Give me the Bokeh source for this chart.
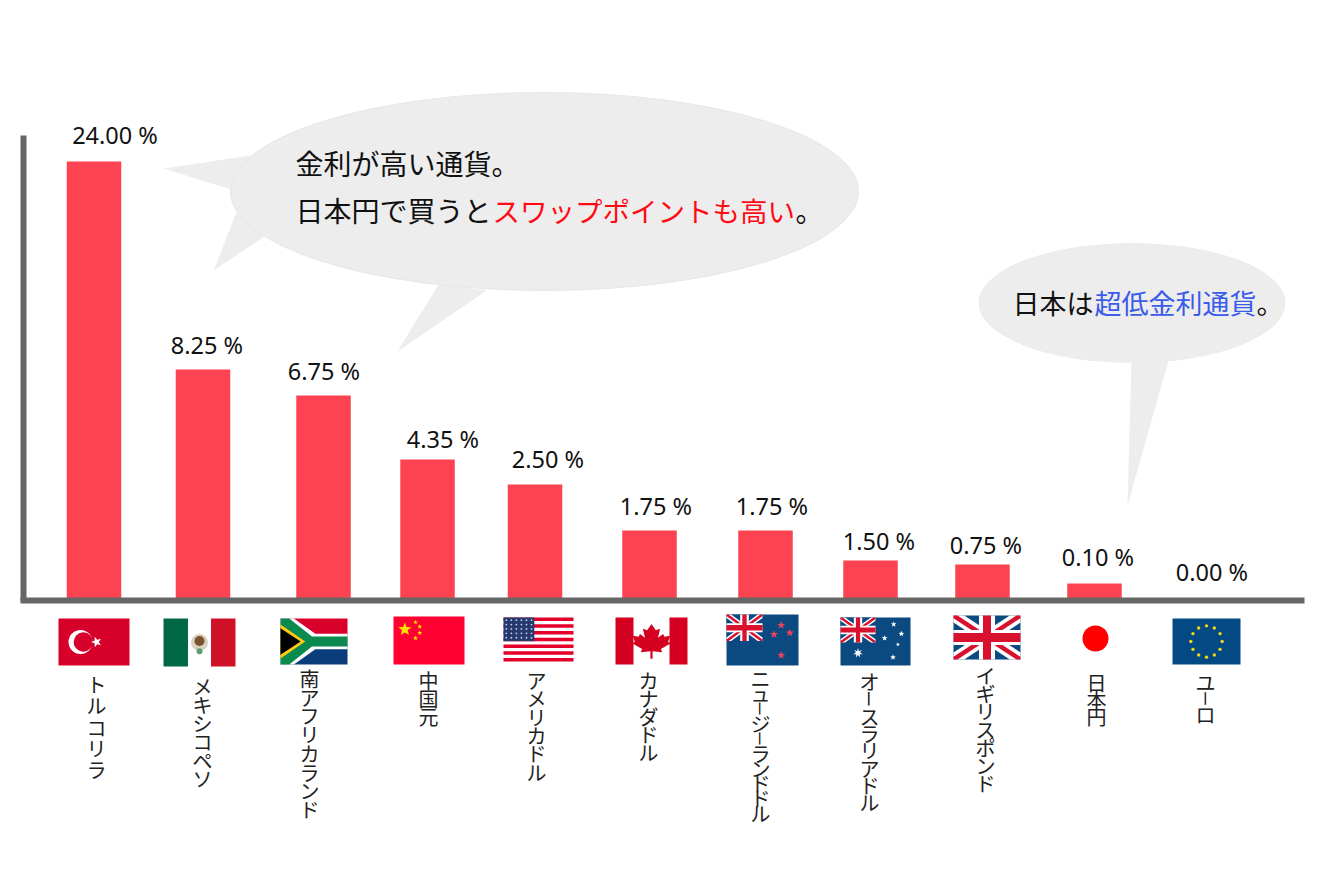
import math
from bokeh.core.properties import value
from bokeh.plotting import figure
from bokeh.models import Range1d
from bokeh.embed import file_html
from bokeh.resources import INLINE

# ---------- data ----------
categories = ["トルコリラ", "メキシコペソ", "南アフリカランド", "中国元", "アメリカドル", "カナダドル",
              "ニュージーランドドル", "オースラリアドル", "イギリスポンド", "日本円", "ユーロ"]
rates = [24.00, 8.25, 6.75, 4.35, 2.50, 1.75, 1.75, 1.50, 0.75, 0.10, 0.00]
# the drawn bars are illustrative, not to scale with the rates
bar_heights = [439, 231, 205, 141, 116, 70, 70, 40, 36, 17, 0]
callout_a_line1 = "金利が高い通貨。"
callout_a_line2_black = "日本円で買うと"
callout_a_line2_red = "スワップポイントも高い"
callout_end = "。"
callout_b_black = "日本は"
callout_b_blue = "超低金利通貨"

# ---------- layout (image pixels) ----------
W, H = 1309, 858
OX, OY = 0, 0
BASE = 600
bar_x = [93.5, 202.5, 323, 427, 534.5, 649, 765, 870, 982, 1094, 1205]
BAR_W = 54.5
label_x = [114.5, 206.5, 323.5, 442.5, 547.5, 655.5, 771.5, 878.5, 985.5, 1097.5, 1211.5]
label_y = [134, 344, 370, 438, 458, 505, 505, 540, 544, 556, 571]
name_x = [96, 202, 309, 428, 536, 648, 760, 869, 985, 1096, 1205]
name_top = [684, 686, 678, 680, 680, 680, 678, 681, 675, 682, 682]
name_pitch = [21.3, 18.4, 18.7, 18, 18.3, 18, 15, 17.3, 18, 17, 16]
flag_boxes = [(58, 618, 129, 665), (163, 618, 235, 666), (280, 618, 347, 664), (393, 616, 464, 664),
              (503, 617, 573, 661), (615, 617, 687, 664), (726, 614, 798, 665), (840, 617, 910, 665),
              (953, 615, 1020, 659), (1060, 612, 1130, 664), (1172, 618, 1240, 664)]


def Y(py):
    return BASE - py


p = figure(width=W, height=H, output_backend="svg", toolbar_location=None,
           x_range=Range1d(OX, OX + W), y_range=Range1d(BASE - OY - H, BASE - OY),
           min_border=0, outline_line_color=None, x_axis_type=None, y_axis_type=None,
           background_fill_color="white", border_fill_color="white")
p.grid.visible = False

BUB = "#EDEDED"


def poly(xs, ys, color):
    p.patch(xs, [Y(v) for v in ys], fill_color=color, line_color=None)


# ---------- callouts ----------
poly([163, 250, 234], [168, 155, 190], BUB)
poly([213, 236, 264], [270, 212, 236], BUB)
poly([397, 438, 486], [351, 284, 290], BUB)
p.ellipse([544], [Y(191)], width=628, height=198, fill_color=BUB, line_color="#E6E6E6", line_width=1)
poly([1131, 1168, 1127], [360, 360, 505], BUB)
p.ellipse([1131.5], [Y(302.5)], width=307, height=120, fill_color=BUB, line_color=None)


def txt(x, y, s, size="27px", color="#111111", font="Noto Sans CJK JP", align="left", angle=0.0):
    p.text([x], [Y(y)], text=[s], text_font=value(font), text_font_size=size, text_color=color,
           text_align=align, text_baseline="middle", angle=angle)


txt(295, 162, callout_a_line1, size="28px")
txt(295, 209, callout_a_line2_black, size="28px")
txt(492, 209, callout_a_line2_red, size="27.5px", color="#FF0A14")
txt(795, 209, callout_end, size="28px")
txt(1012, 302, callout_b_black, size="27px")
txt(1094, 302, callout_b_blue, size="27px", color="#3B5BEA")
txt(1256, 302, callout_end, size="27px")

# ---------- bars ----------
p.vbar(x=bar_x, top=bar_heights, bottom=0, width=BAR_W, fill_color="#FD4352", line_color=None)

# ---------- axes ----------
p.segment([20, 23], [0, 0], [1304, 23], [0, Y(135)], line_color="#666666", line_width=6)

# ---------- value labels ----------
for x, y, r in zip(label_x, label_y, rates):
    txt(x, y, f"{r:.2f} %", size="23.5px", color="#111111", font="Noto Sans", align="center")

# ---------- vertical category names ----------
for cat, x, top, pitch in zip(categories, name_x, name_top, name_pitch):
    for i, ch in enumerate(cat):
        if ch == "ー":
            txt(x, top + i * pitch, ch, size=f"{pitch:.0f}px", color="#222222", align="center",
                angle=-math.pi / 2)
        else:
            txt(x, top + i * pitch, ch, size="20px", color="#222222", align="center")


# ---------- flags ----------
class Box:
    def __init__(self, b):
        self.x0, self.y0, self.x1, self.y1 = b
        self.w, self.h = self.x1 - self.x0, self.y1 - self.y0

    def px(self, u):
        return self.x0 + u * self.w

    def py(self, v):
        return self.y0 + v * self.h

    def sub(self, u0, v0, u1, v1):
        return Box((self.px(u0), self.py(v0), self.px(u1), self.py(v1)))

    def rect(self, u0, v0, u1, v1, c):
        poly([self.px(u0), self.px(u1), self.px(u1), self.px(u0)],
             [self.py(v0), self.py(v0), self.py(v1), self.py(v1)], c)

    def pg(self, pts, c):
        poly([self.px(a) for a, _ in pts], [self.py(b) for _, b in pts], c)

    def dot(self, u, v, r, c):
        p.ellipse([self.px(u)], [Y(self.py(v))], width=2 * r, height=2 * r, fill_color=c, line_color=None)

    def star(self, u, v, r, c, n=5, inner=0.42, rot=0.0):
        xs, ys = [], []
        cx, cy = self.px(u), self.py(v)
        for k in range(2 * n):
            rr = r if k % 2 == 0 else r * inner
            a = rot - math.pi / 2 + k * math.pi / n
            xs.append(cx + rr * math.cos(a))
            ys.append(cy + rr * math.sin(a))
        poly(xs, ys, c)


def union_jack(b, blue="#0A4A80", red="#D8112E", t=0.13, t2=0.06):
    b.rect(0, 0, 1, 1, blue)
    for a, c in ((t, "white"), (t2, red)):
        b.pg([(0, 0), (a, 0), (1, 1 - a), (1, 1), (1 - a, 1), (0, a)], c)
        b.pg([(1, 0), (1, a), (a, 1), (0, 1), (0, 1 - a), (1 - a, 0)], c)
    b.rect(0, 0.33, 1, 0.67, "white")
    b.rect(0.38, 0, 0.62, 1, "white")
    b.rect(0, 0.4, 1, 0.6, red)
    b.rect(0.44, 0, 0.56, 1, red)


def turkey(b):
    b.rect(0, 0, 1, 1, "#D6002A")
    b.dot(0.31, 0.5, 12, "white")
    b.dot(0.35, 0.5, 9.7, "#D6002A")
    b.star(0.535, 0.5, 5.5, "white", rot=-math.pi / 2)


def mexico(b):
    b.rect(0, 0, 0.34, 1, "#006847")
    b.rect(0.66, 0, 1, 1, "#CE1126")
    b.dot(0.5, 0.5, 8.5, "#D8D2BE")
    b.dot(0.5, 0.47, 5, "#7A5230")
    b.dot(0.5, 0.68, 3, "#5E9C78")


def south_africa(b):
    b.rect(0, 0, 1, 0.5, "#D9002B")
    b.rect(0, 0.5, 1, 1, "#0A3D7A")
    b.pg([(0, 0), (0.2, 0), (0.52, 0.33), (1, 0.33), (1, 0.67), (0.52, 0.67), (0.2, 1), (0, 1)], "white")
    b.pg([(0, 0), (0.13, 0), (0.47, 0.39), (1, 0.39), (1, 0.61), (0.47, 0.61), (0.13, 1), (0, 1)], "#0A8A4E")
    b.pg([(0, 0.13), (0.37, 0.5), (0, 0.87)], "#FFC915")
    b.pg([(0, 0.21), (0.3, 0.5), (0, 0.79)], "#000000")


def china(b):
    b.rect(0, 0, 1, 1, "#FF0033")
    b.star(0.16, 0.27, 7, "#FFDE00")
    for u, v in ((0.31, 0.12), (0.37, 0.21), (0.37, 0.34), (0.31, 0.45)):
        b.star(u, v, 2.6, "#FFDE00")


def usa(b):
    b.rect(0, 0, 1, 1, "white")
    for i in range(0, 13, 2):
        b.rect(0, i / 13, 1, (i + 1) / 13, "#E4002B")
    b.rect(0, 0, 0.44, 7 / 13, "#26396E")
    for row in range(5):
        for col in range(6):
            b.dot(0.04 + col * 0.072, 0.06 + row * 0.1, 0.9, "#C9D0E2")


def canada(b):
    b.rect(0, 0, 0.25, 1, "#D5001F")
    b.rect(0.75, 0, 1, 1, "#D5001F")
    leaf = [(0.5, 0.14), (0.56, 0.27), (0.62, 0.24), (0.59, 0.43), (0.66, 0.35), (0.68, 0.41), (0.76, 0.39),
            (0.73, 0.52), (0.77, 0.55), (0.63, 0.67), (0.65, 0.74), (0.515, 0.72), (0.515, 0.88), (0.485, 0.88),
            (0.485, 0.72), (0.35, 0.74), (0.37, 0.67), (0.23, 0.55), (0.27, 0.52), (0.24, 0.39), (0.32, 0.41),
            (0.34, 0.35), (0.41, 0.43), (0.38, 0.24), (0.44, 0.27)]
    b.pg(leaf, "#D5001F")


def new_zealand(b):
    b.rect(0, 0, 1, 1, "#0A4A80")
    union_jack(b.sub(0, 0, 0.5, 0.52))
    for u, v in ((0.76, 0.21), (0.66, 0.39), (0.88, 0.36), (0.76, 0.8)):
        b.star(u, v, 4.2, "#F0415A")


def australia(b):
    b.rect(0, 0, 1, 1, "#0A4A80")
    union_jack(b.sub(0, 0, 0.5, 0.52))
    for u, v, r in ((0.76, 0.14, 2.2), (0.63, 0.43, 2.2), (0.87, 0.34, 2.2), (0.82, 0.56, 1.4), (0.75, 0.83, 2.2)):
        b.star(u, v, r + 0.8, "white")
    b.star(0.25, 0.74, 5, "white", n=7)


def uk(b):
    union_jack(b, blue="#0A4A80", t=0.16, t2=0.06)


def japan(b):
    b.dot(0.5, 0.5, 13, "#FF0000")


def eu(b):
    b.rect(0, 0, 1, 1, "#034A85")
    for k in range(12):
        a = k * math.pi / 6
        b.dot(0.5 + 0.23 * math.sin(a), 0.5 - 0.34 * math.cos(a), 1.7, "#F2D21B")


flag_painters = [turkey, mexico, south_africa, china, usa, canada, new_zealand, australia, uk, japan, eu]
for paint, box in zip(flag_painters, flag_boxes):
    paint(Box(box))

open("out.html", "w").write(file_html(p, INLINE))
